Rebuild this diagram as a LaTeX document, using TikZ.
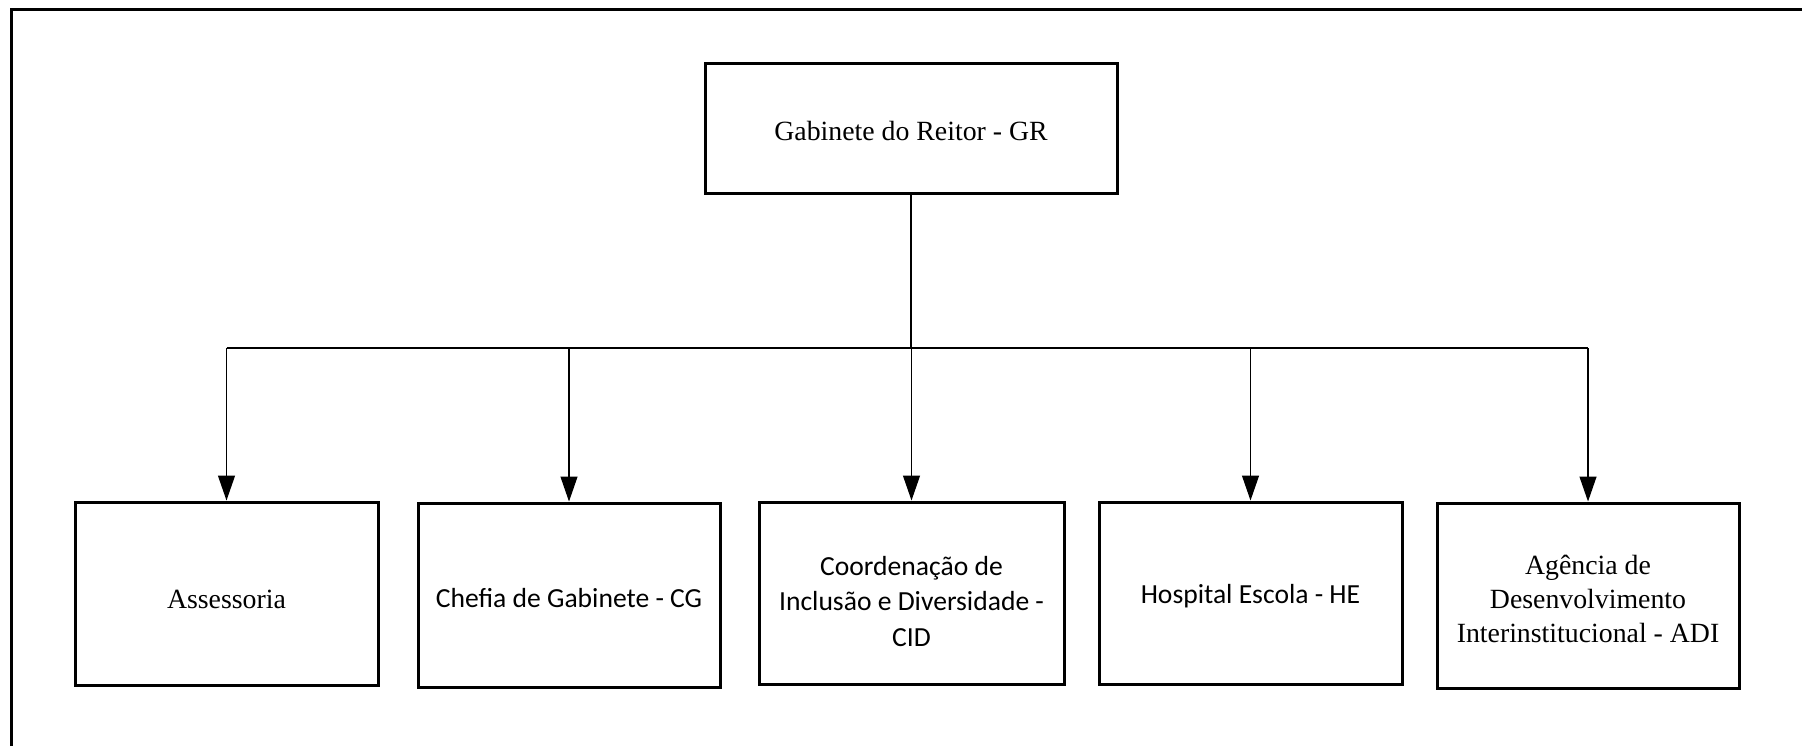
\documentclass[tikz,border=0pt]{standalone}
\usepackage{fontspec}
\setmainfont{Liberation Serif}
\newfontfamily\calib{Carlito}
\usetikzlibrary{arrows.meta}
\tikzset{
  unit/.style={draw, line width=1.5pt, rectangle, inner sep=0pt, align=center,
    font=\fontsize{13.9}{17.5}\selectfont},
  sans/.style={font=\fontsize{13.8}{17.8}\selectfont\calib},
  conn/.style={line width=0.6pt},
  arr/.style={conn, -{Triangle[length=12.5pt,width=8.5pt]}},
  frame/.style={line width=1.7pt}
}
\begin{document}
\begin{tikzpicture}[x=0.5pt,y=-0.5pt]
\useasboundingbox (0,0) rectangle (1802,746);
\coordinate (fbl) at (11.5,746);
\coordinate (ftl) at (11.5,9.5);
\coordinate (ftr) at (1802,9.5);
\draw[frame] (fbl) -- (ftl) -- (ftr);

\node[unit, minimum width=206pt, minimum height=65pt, text height=13pt] (gr) at (911,128) {Gabinete do Reitor - GR};
\node[unit, minimum width=151.5pt, minimum height=91.5pt, text height=15.2pt] (as) at (226.5,593.5) {Assessoria};
\node[unit, sans, minimum width=151pt, minimum height=92pt, text height=13pt] (cg) at (569,595) {Chefia de Gabinete - CG};
\node[unit, sans, minimum width=152.5pt, minimum height=91pt] (cid) at (911.5,593) {\rule{0pt}{17.7pt}Coordenação de\\Inclusão e Diversidade -\\CID};
\node[unit, sans, minimum width=151.5pt, minimum height=91pt, text height=13pt] (he) at (1250.5,593) {Hospital Escola - HE};
\node[unit, minimum width=151pt, minimum height=92.5pt, font=\fontsize{13.9}{17}\selectfont] (adi) at (1588,595.5) {\rule{0pt}{13.6pt}Agência de\\Desenvolvimento\\Interinstitucional - ADI};

\coordinate (bus) at (911,348);
\draw[conn] (gr.south) -- (bus);
\draw[conn] (as.north |- bus) -- (adi.north |- bus);
\foreach \n in {as,cg,cid,he,adi}{
  \draw[arr] (\n.north |- bus) -- (\n.north);
}
\end{tikzpicture}
\end{document}
